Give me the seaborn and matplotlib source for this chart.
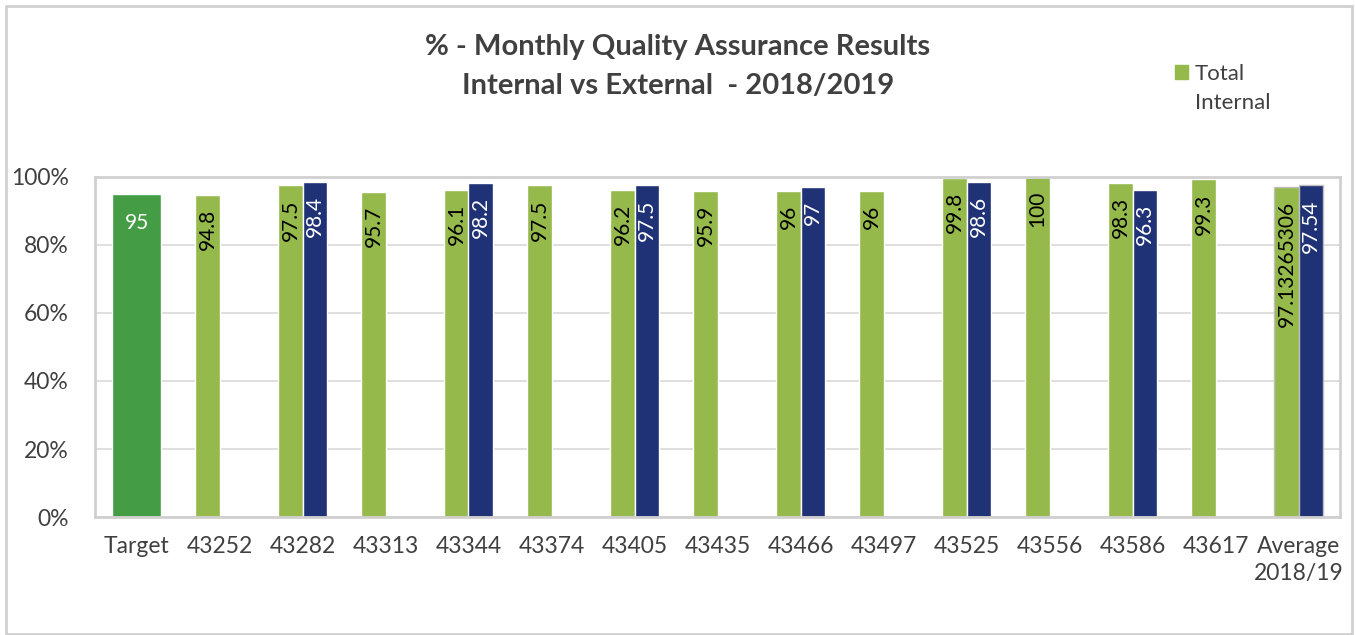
import numpy as np
import pandas as pd
import matplotlib
matplotlib.use("Agg")
import matplotlib.pyplot as plt
import seaborn as sns
from matplotlib.patches import Rectangle, Patch

categories = ["Target", "43252", "43282", "43313", "43344", "43374", "43405", "43435",
              "43466", "43497", "43525", "43556", "43586", "43617", "Average\n2018/19"]
target_value = [95]
internal_values = [None, 94.8, 97.5, 95.7, 96.1, 97.5, 96.2, 95.9, 96, 96, 99.8, 100, 98.3, 99.3, 97.13265306]
external_values = [None, None, 98.4, None, 98.2, None, 97.5, None, 97, None, 98.6, None, 96.3, None, 97.54]
internal_labels = [None, "94.8", "97.5", "95.7", "96.1", "97.5", "96.2", "95.9", "96", "96",
                   "99.8", "100", "98.3", "99.3", "97.13265306"]
external_labels = [None, None, "98.4", None, "98.2", None, "97.5", None, "97", None,
                   "98.6", None, "96.3", None, "97.54"]
yticks = [0, 20, 40, 60, 80, 100]
ytick_labels = ["0%", "20%", "40%", "60%", "80%", "100%"]

sns.set_theme(style="white")
plt.rcParams['font.family'] = ['Lato', 'DejaVu Sans']

C_TARGET = "#449C45"
C_INT = "#95B94B"
C_EXT = "#1F3276"
TXT = "#404040"

rows = []
for c, v in zip(categories, internal_values):
    if v is not None:
        rows.append({"cat": c, "series": "Total Internal", "val": v})
for c, v in zip(categories, external_values):
    if v is not None:
        rows.append({"cat": c, "series": "Total External", "val": v})
df = pd.DataFrame(rows)
df_t = pd.DataFrame({"cat": ["Target"], "val": target_value})

fig = plt.figure(figsize=(13.56, 6.35), dpi=100)
ax = fig.add_axes([95/1356, 1-517/635, (1340-95)/1356, (517-177)/635])

sns.barplot(data=df_t, x="cat", y="val", order=categories, color=C_TARGET,
            width=0.58, errorbar=None, ax=ax, saturation=1)
sns.barplot(data=df, x="cat", y="val", hue="series", order=categories,
            hue_order=["Total Internal", "Total External"],
            palette={"Total Internal": C_INT, "Total External": C_EXT},
            width=0.58, dodge=True, errorbar=None, ax=ax, saturation=1, legend=False)

ax.set_xlim(-0.5, len(categories) - 0.5)
ax.set_ylim(0, 100)
ax.set_yticks(yticks)
ax.set_yticklabels(ytick_labels)
ax.set_xlabel("")
ax.set_ylabel("")
ax.tick_params(axis="both", length=0, labelsize=16.5, colors=TXT)
ax.tick_params(axis="y", pad=19)
ax.tick_params(axis="x", pad=14)
for t in ax.get_xticklabels():
    t.set_linespacing(1.3)
ax.yaxis.grid(True, color="#D9D9D9", linewidth=1.2)
ax.set_axisbelow(True)
for s in ax.spines.values():
    s.set_visible(True)
    s.set_color("#D0D0D0")
    s.set_linewidth(2)

containers = ax.containers
tc = containers[0]
for bar in tc:
    h = bar.get_height()
    if np.isnan(h):
        continue
    ax.annotate(f"{h:g}", (bar.get_x() + bar.get_width() / 2, h), xytext=(0, -21),
                textcoords="offset points", ha="center", va="center",
                color="white", fontsize=15)

int_lab = {c: l for c, l in zip(categories, internal_labels) if l}
ext_lab = {c: l for c, l in zip(categories, external_labels) if l}
for cont, labmap, col in [(containers[1], int_lab, "black"), (containers[2], ext_lab, "white")]:
    for bar in cont:
        h = bar.get_height()
        if np.isnan(h) or h == 0:
            continue
        xc = bar.get_x() + bar.get_width() / 2
        idx = int(round(xc))
        lab = labmap.get(categories[idx])
        if lab is None:
            continue
        ax.annotate(lab, (xc, h), xytext=(0, -10), textcoords="offset points",
                    ha="center", va="top", rotation=90, color=col, fontsize=15)

for cont in containers[1:]:
    for bar in cont:
        xc = bar.get_x() + bar.get_width() / 2
        if int(round(xc)) == len(categories) - 1:
            bar.set_edgecolor("#BFBFBF")
            bar.set_linewidth(1)

fig.text(0.5, 1 - 47/635, "% - Monthly Quality Assurance Results", ha="center", va="center",
         fontsize=21, fontweight="bold", color=TXT)
fig.text(0.5, 1 - 86/635, "Internal vs External  - 2018/2019", ha="center", va="center",
         fontsize=21, fontweight="bold", color=TXT)

leg = fig.legend(handles=[Patch(color=C_INT, label="Total")], loc="center left",
                 bbox_to_anchor=(1175/1356, 1 - 74/635), frameon=False, fontsize=16,
                 handlelength=0.6, handleheight=0.6, handletextpad=0.3, borderaxespad=0,
                 borderpad=0)
for t in leg.get_texts():
    t.set_color(TXT)

fig.canvas.draw()
tb = leg.get_texts()[0].get_window_extent()
fig.text(tb.x0 / 1356, 1 - 103/635, "Internal", ha="left", va="center",
         fontsize=16, color=TXT)

fig.patches.append(Rectangle((6/1356, 1/635), 1346/1356, 628/635, transform=fig.transFigure,
                             fill=False, edgecolor="#D0D0D0", linewidth=2))

fig.savefig("out.png", dpi=100)
